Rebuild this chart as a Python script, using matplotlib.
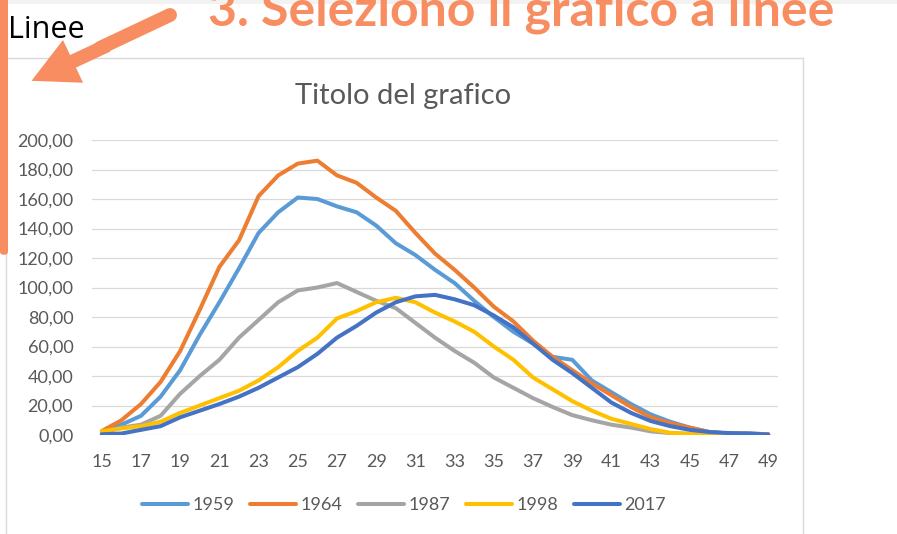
import matplotlib as mpl
mpl.use('Agg')
import matplotlib.pyplot as plt
from matplotlib.patches import Rectangle, FancyBboxPatch, FancyArrowPatch
from matplotlib.lines import Line2D
import numpy as np

# eta' della madre e tassi di fecondita' per anno
ages = list(range(15, 50))
f1959 = [2, 7, 13, 26, 44, 68, 90, 113, 137, 151, 161, 160, 155, 151, 142, 130, 122, 112,
         103, 91, 80, 70, 62, 53, 51, 37, 29, 21, 14, 9, 5, 2, 1, 1, 0.5]
f1964 = [2.7, 10, 21, 36, 57, 85, 114, 132, 162, 176, 184, 186, 176, 171, 161, 152, 137, 123,
         112, 100, 87, 77, 64, 53, 44, 35, 27, 19, 12, 8, 5, 2, 1, 1, 0.5]
f1987 = [1.5, 5, 7, 13, 28, 40, 51, 66, 78, 90, 98, 100, 103, 97, 91, 86, 76, 66,
         57, 49, 39, 32, 25, 19, 13.5, 10, 7, 5, 2.5, 1.3, 0.8, 0.5, 0.3, 0.2, 0.1]
f1998 = [2.5, 4.5, 6, 9, 15, 20, 25, 30, 37, 46, 57, 66, 79, 84, 90, 93, 90, 83,
         77, 70, 60, 51, 39, 31, 23, 16.5, 11, 7.5, 4, 1.5, 0.7, 0.4, 0.2, 0.1, 0.1]
f2017 = [0.5, 1, 3.5, 6, 12, 16.5, 21, 26, 32, 39, 46, 55, 66, 74, 83, 90, 94, 95,
         92, 88, 81, 73, 62, 51, 42, 32, 22, 15, 9.5, 6, 3.5, 2, 1.3, 1, 0.3]
series_names = ['1959', '1964', '1987', '1998', '2017']
series_vals = [f1959, f1964, f1987, f1998, f2017]
colors = ['#5B9BD5', '#ED7D31', '#A5A5A5', '#FFC000', '#4472C4']

W, H = 897, 534
def px(x, y):
    return (x / W, 1 - y / H)

fig = plt.figure(figsize=(W / 100, H / 100), dpi=100)
fig.patch.set_facecolor('white')
orange = '#F88D62'
grey_txt = '#595959'

# sfondo slide in alto
fig.add_artist(Rectangle(px(0, 4), 1, 4 / H, transform=fig.transFigure,
                         facecolor='#F2F2F2', edgecolor='none', zorder=0))
# riquadro del grafico
x0, y0 = px(6, 560)
x1, y1 = px(803, 58)
fig.add_artist(Rectangle((x0, y0), x1 - x0, y1 - y0, transform=fig.transFigure,
                         facecolor='white', edgecolor='#D9D9D9', lw=1.0, zorder=0))

ax = fig.add_axes([92 / W, (H - 435) / H, (778 - 92) / W, (435 - 140) / H])
ax.set_facecolor('none')
for name, vals, c in zip(series_names, series_vals, colors):
    ax.plot(ages, vals, color=c, lw=2.9, label=name, solid_joinstyle='round',
            solid_capstyle='round')
ax.set_xlim(14.5, 49.5)
ax.set_ylim(0, 200)
ax.set_yticks(np.arange(0, 201, 20))
ax.set_yticklabels(['%d,00' % v for v in range(0, 201, 20)])
ax.set_xticks(ages[::2])
ax.grid(axis='y', color='#D9D9D9', lw=0.9)
ax.set_axisbelow(True)
for s in ax.spines.values():
    s.set_visible(False)
ax.tick_params(length=0, labelsize=13, labelcolor=grey_txt, pad=0)
ax.tick_params(axis='y', pad=13.5)
ax.tick_params(axis='x', pad=13.5)
for lab in ax.get_xticklabels() + ax.get_yticklabels():
    lab.set_fontfamily('Lato')

fig.text(*px(403, 104), 'Titolo del grafico', ha='center', va='baseline',
         fontsize=21, color=grey_txt, family='Lato')

fig.legend(loc='center', bbox_to_anchor=px(404, 505), ncol=5, frameon=False,
           prop={'family': 'Lato', 'size': 13}, labelcolor=grey_txt,
           handlelength=2.55, handletextpad=0.22, columnspacing=0.9)

# annotazioni della slide
fig.add_artist(FancyBboxPatch(px(0, 255), 8 / W, 300 / H, transform=fig.transFigure,
                              boxstyle='round,pad=0,rounding_size=0.006',
                              facecolor=orange, edgecolor='none', zorder=5))
fig.text(*px(8, 38), 'Linee', ha='left', va='baseline', fontsize=22,
         color='black', family='Open Sans')
fig.text(*px(208, 25), '3. Seleziono il grafico a linee', ha='left', va='baseline',
         fontsize=36, color=orange, family='Lato', weight='bold')
fig.add_artist(Line2D([170 / W, 100 / W], [1 - 15 / H, 1 - 48 / H], transform=fig.transFigure,
                      color=orange, lw=10, solid_capstyle='round', zorder=6))
fig.add_artist(FancyArrowPatch(px(110, 44), px(29, 82), transform=fig.transFigure,
                               arrowstyle='simple,head_length=33,head_width=34,tail_width=10',
                               mutation_scale=1, color=orange, lw=0, zorder=6))

fig.savefig('out.png', dpi=100)
